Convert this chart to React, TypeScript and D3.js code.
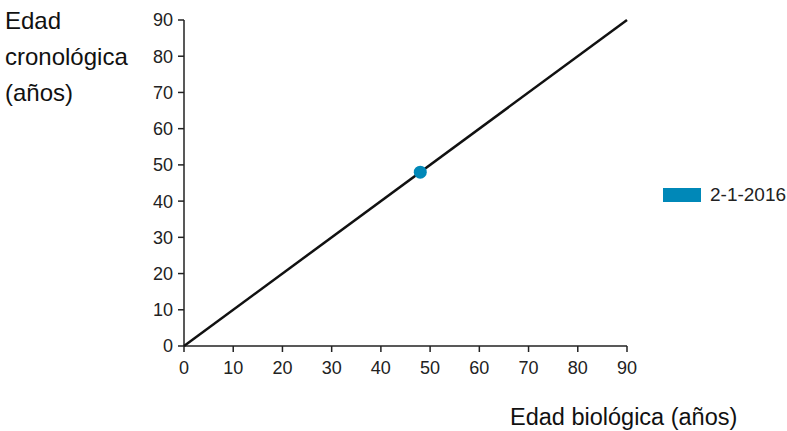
import React from "react";
import * as d3 from "d3";

const xTicks = [0, 10, 20, 30, 40, 50, 60, 70, 80, 90];
const yTicks = [0, 10, 20, 30, 40, 50, 60, 70, 80, 90];
const refLine = [
  { x: 0, y: 0 },
  { x: 90, y: 90 },
];
const points = [{ x: 48, y: 48 }];
const seriesName = "2-1-2016";
const yTitleLines = ["Edad", "cronológica", "(años)"];
const xTitle = "Edad biológica (años)";

const W = 787;
const H = 431;
const TICK_FONT = "Arial, 'Liberation Sans', sans-serif";
const TITLE_FONT = "Arial, 'Liberation Sans', sans-serif";

export default function App() {
  const x = d3.scaleLinear().domain([0, 90]).range([184, 627]);
  const y = d3.scaleLinear().domain([0, 90]).range([346, 20]);
  const line = d3
    .line<{ x: number; y: number }>()
    .x((d) => x(d.x))
    .y((d) => y(d.y));
  const color = "#0088b8";
  const tickColor = "#222";
  return (
    <svg
      width={W}
      height={H}
      style={{ position: "absolute", left: 0, top: 0, background: "#fff" }}
    >
      {yTitleLines.map((t, i) => (
        <text key={t} x={5} y={29 + i * 36} fontFamily={TITLE_FONT} fontSize={24} fill="#111">
          {t}
        </text>
      ))}
      <text x={510} y={425} fontFamily={TITLE_FONT} fontSize={23.5} fill="#111">
        {xTitle}
      </text>
      {/* axes */}
      <line x1={x(0)} x2={x(0)} y1={y(90)} y2={y(0)} stroke="#222" strokeWidth={1.5} />
      <line x1={x(0)} x2={x(90)} y1={y(0)} y2={y(0)} stroke="#222" strokeWidth={1.5} />
      {yTicks.map((t) => (
        <g key={"y" + t}>
          <line x1={x(0) - 6} x2={x(0)} y1={y(t)} y2={y(t)} stroke="#222" strokeWidth={1.5} />
          <text
            x={173}
            y={y(t)}
            dy="0.36em"
            textAnchor="end"
            fontFamily={TICK_FONT}
            fontSize={18}
            fill={tickColor}
          >
            {t}
          </text>
        </g>
      ))}
      {xTicks.map((t) => (
        <g key={"x" + t}>
          <line x1={x(t)} x2={x(t)} y1={y(0)} y2={y(0) + 6} stroke="#222" strokeWidth={1.5} />
          <text
            x={x(t)}
            y={y(0) + 28}
            textAnchor="middle"
            fontFamily={TICK_FONT}
            fontSize={18}
            fill={tickColor}
          >
            {t}
          </text>
        </g>
      ))}
      <path d={line(refLine) || ""} fill="none" stroke="#111" strokeWidth={2.5} />
      {points.map((p, i) => (
        <circle key={i} cx={x(p.x)} cy={y(p.y)} r={6.5} fill={color} />
      ))}
      <rect x={663} y={188} width={38} height={14} fill={color} />
      <text x={710} y={201} fontFamily={TICK_FONT} fontSize={19} fill={tickColor}>
        {seriesName}
      </text>
    </svg>
  );
}
